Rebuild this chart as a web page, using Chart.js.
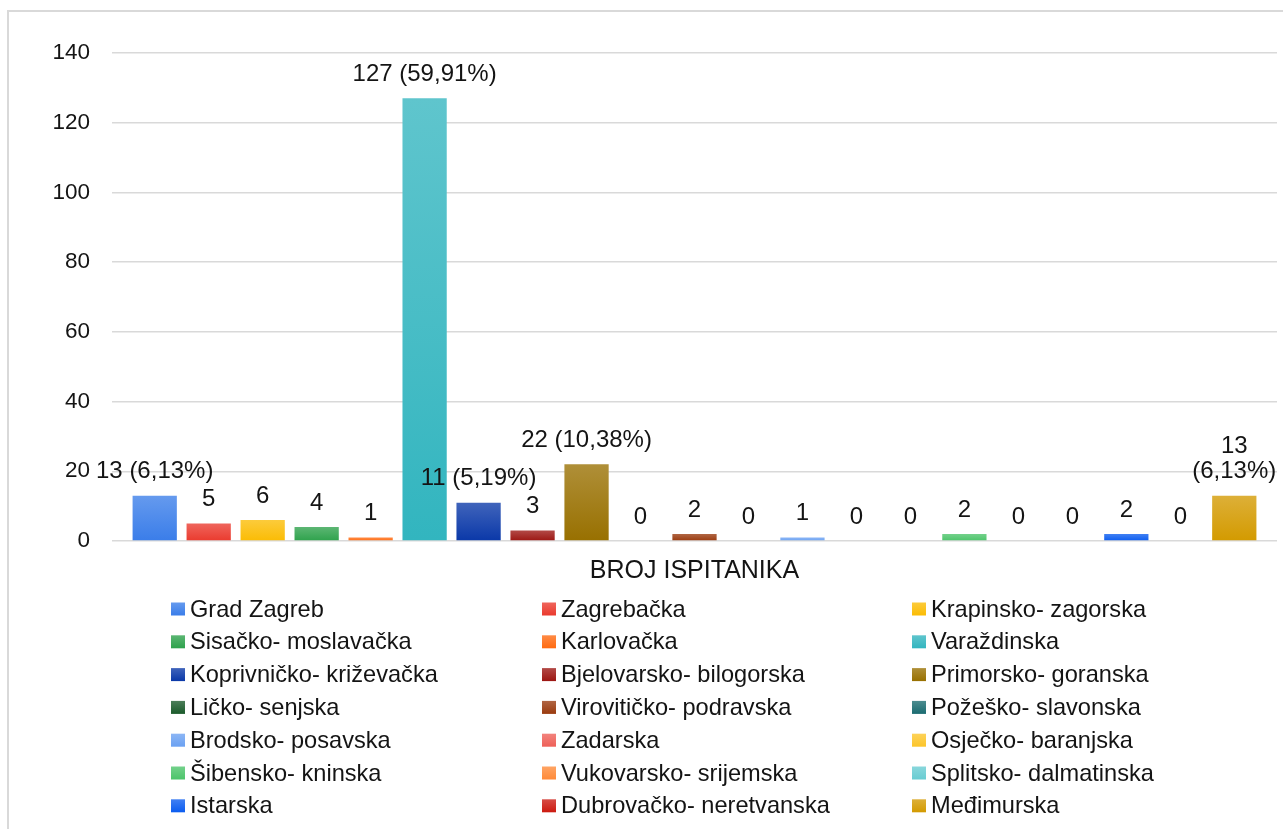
<!DOCTYPE html>
<html>
<head>
<meta charset="utf-8">
<script src="https://cdn.jsdelivr.net/npm/chart.js@4"></script>
<style>
  html, body { margin: 0; padding: 0; background: #fff; }
  #wrap { width: 1283px; height: 829px; position: relative; }
</style>
</head>
<body>
<div id="wrap"><canvas id="grafikon"></canvas></div>
<script>
const kategorije = ["BROJ ISPITANIKA"];

const zupanije = [
  "Grad Zagreb", "Zagrebačka", "Krapinsko- zagorska",
  "Sisačko- moslavačka", "Karlovačka", "Varaždinska",
  "Koprivničko- križevačka", "Bjelovarsko- bilogorska", "Primorsko- goranska",
  "Ličko- senjska", "Virovitičko- podravska", "Požeško- slavonska",
  "Brodsko- posavska", "Zadarska", "Osječko- baranjska",
  "Šibensko- kninska", "Vukovarsko- srijemska", "Splitsko- dalmatinska",
  "Istarska", "Dubrovačko- neretvanska", "Međimurska"
];

const brojIspitanika = [13, 5, 6, 4, 1, 127, 11, 3, 22, 0, 2, 0, 1, 0, 0, 2, 0, 0, 2, 0, 13];

const oznake = [
  ["13 (6,13%)"], ["5"], ["6"], ["4"], ["1"], ["127 (59,91%)"],
  ["11 (5,19%)"], ["3"], ["22 (10,38%)"], ["0"], ["2"], ["0"],
  ["1"], ["0"], ["0"], ["2"], ["0"], ["0"], ["2"], ["0"], ["13", "(6,13%)"]
];

const boje = [
  "#3a7de9", "#ea3a2e", "#fbbc04", "#2ea24c", "#ff6a10", "#32b5bf",
  "#0a38a8", "#9c1612", "#987000", "#1a5a2a", "#9a3a0e", "#1a6b70",
  "#6ba1f2", "#ee6058", "#fcc52a", "#4cc46a", "#ff8a38", "#68ccd2",
  "#0b5cf0", "#cc1a10", "#d39a00"
];

const yTicks = [0, 20, 40, 60, 80, 100, 120, 140];

const FONT = "'Liberation Sans', Arial, sans-serif";

function svjetlije(hex, f) {
  const n = parseInt(hex.slice(1), 16);
  let r = n >> 16, g = (n >> 8) & 255, b = n & 255;
  r = Math.round(r + (255 - r) * f);
  g = Math.round(g + (255 - g) * f);
  b = Math.round(b + (255 - b) * f);
  return `rgb(${r},${g},${b})`;
}

function gradijent(ctx, boja, y0, y1) {
  const g = ctx.createLinearGradient(0, y0, 0, y1);
  g.addColorStop(0, svjetlije(boja, 0.22));
  g.addColorStop(1, boja);
  return g;
}

const datasets = zupanije.map((z, i) => ({
  label: z,
  data: [brojIspitanika[i]],
  backgroundColor: (c) => {
    const chart = c.chart;
    if (!chart.chartArea || !chart.scales.y) return boje[i];
    const top = chart.scales.y.getPixelForValue(brojIspitanika[i]);
    const bottom = chart.scales.y.getPixelForValue(0);
    if (bottom - top < 1) return boje[i];
    return gradijent(chart.ctx, boje[i], top, bottom);
  },
  borderWidth: 0,
  barPercentage: 0.82,
  categoryPercentage: 0.973
}));

// okvir oko grafikona
const okvir = {
  id: "okvir",
  beforeDraw(chart) {
    const ctx = chart.ctx;
    ctx.save();
    ctx.fillStyle = "#fff";
    ctx.fillRect(0, 0, chart.width, chart.height);
    ctx.strokeStyle = "#d9d9d9";
    ctx.lineWidth = 2;
    ctx.strokeRect(8, 11, chart.width + 20, chart.height + 20);
    ctx.restore();
  }
};

// oznake vrijednosti iznad stupaca
const oznakeStupaca = {
  id: "oznakeStupaca",
  afterDatasetsDraw(chart) {
    const ctx = chart.ctx;
    ctx.save();
    ctx.font = "24px " + FONT;
    ctx.fillStyle = "#141414";
    ctx.textAlign = "center";
    ctx.textBaseline = "middle";
    chart.data.datasets.forEach((ds, i) => {
      const bar = chart.getDatasetMeta(i).data[0];
      const linije = oznake[i];
      linije.forEach((t, k) => {
        const y = bar.y - 24 - (linije.length - 1 - k) * 25;
        ctx.fillText(t, bar.x, y);
      });
    });
    ctx.restore();
  }
};

// legenda u tri stupca
const legenda = {
  id: "legenda",
  afterDraw(chart) {
    const ctx = chart.ctx;
    const stupciX = [171, 542, 912];
    const y0 = 609, dy = 32.8;
    ctx.save();
    ctx.font = "23.6px " + FONT;
    ctx.textBaseline = "middle";
    zupanije.forEach((z, i) => {
      const x = stupciX[i % 3];
      const y = y0 + Math.floor(i / 3) * dy;
      ctx.fillStyle = gradijent(ctx, boje[i], y - 6.5, y + 6.5);
      ctx.fillRect(x, y - 6.5, 14, 13);
      ctx.fillStyle = "#141414";
      ctx.fillText(z, x + 19, y + 1);
    });
    ctx.restore();
  }
};

new Chart(document.querySelector("#grafikon"), {
  type: "bar",
  data: { labels: kategorije, datasets: datasets },
  options: {
    responsive: true,
    maintainAspectRatio: false,
    animation: false,
    layout: { padding: { top: 53, right: 6, left: 0, bottom: 0 } },
    plugins: {
      legend: { display: false },
      tooltip: { enabled: false }
    },
    scales: {
      x: {
        grid: { display: false, drawTicks: false },
        border: { display: false },
        ticks: { font: { family: FONT, size: 25 }, color: "#141414", padding: 15 },
        afterFit: (s) => { s.height = 288; }
      },
      y: {
        min: 0,
        max: 140,
        afterBuildTicks: (s) => { s.ticks = yTicks.map(v => ({ value: v })); },
        grid: { color: "#d9d9d9", lineWidth: 1.5, drawTicks: false },
        border: { display: false },
        ticks: { font: { family: FONT, size: 22.5 }, color: "#141414", padding: 22 },
        afterFit: (s) => { s.width = 112; }
      }
    }
  },
  plugins: [okvir, oznakeStupaca, legenda]
});
</script>
</body>
</html>
